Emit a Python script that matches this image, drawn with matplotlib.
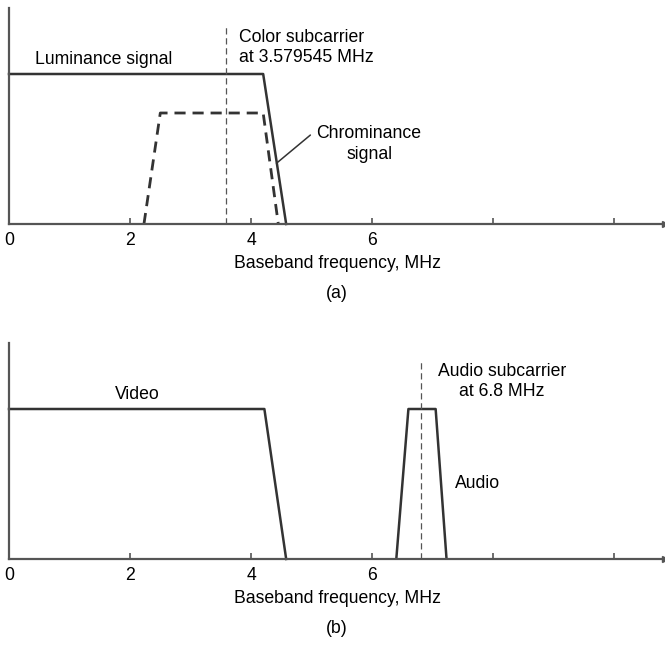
import matplotlib
matplotlib.use('Agg')
import matplotlib.pyplot as plt

plt.rcParams['font.family'] = ['Liberation Sans', 'DejaVu Sans']

# panel (a)
lum_x = [0, 4.2, 4.58]
lum_y = [1.0, 1.0, 0.0]
chroma_x = [2.23, 2.5, 4.2, 4.45]
chroma_y = [0.0, 0.74, 0.74, 0.0]
color_sub = 3.579545

# panel (b)
video_x = [0, 4.22, 4.58]
video_y = [1.0, 1.0, 0.0]
audio_x = [6.4, 6.6, 7.05, 7.23]
audio_y = [0.0, 1.0, 1.0, 0.0]
audio_sub = 6.8

tick_pos = [0, 2, 4, 6, 8, 10]
tick_lab = ['0', '2', '4', '6', '', '']

LINE = '#333333'
AXC = '#555555'
FS = 12.7


def setup(ax, tag):
    ax.set_xlim(0, 10.84)
    ax.set_ylim(0, 1.44)
    for s in ['top', 'right']:
        ax.spines[s].set_visible(False)
    for s in ['left', 'bottom']:
        ax.spines[s].set_color(AXC)
        ax.spines[s].set_linewidth(1.6)
    ax.set_yticks([])
    ax.set_xticks(tick_pos)
    ax.set_xticklabels(tick_lab, fontsize=FS)
    ax.tick_params(axis='x', direction='in', length=4.5, width=1.2,
                   color=AXC, pad=6)
    ax.set_xlabel('Baseband frequency, MHz', fontsize=FS, labelpad=4)
    ax.plot(1, 0, '>', color=AXC, markersize=4,
            transform=ax.get_yaxis_transform(), clip_on=False)
    ax.text(0.5, -0.32, tag, transform=ax.transAxes, ha='center',
            va='center', fontsize=FS)
    ax.patch.set_alpha(0)


fig = plt.figure(figsize=(6.65, 6.45), dpi=100)
ax1 = fig.add_axes([9 / 665, 1 - 224 / 645, 656 / 665, 216 / 645])
ax2 = fig.add_axes([9 / 665, 1 - 559 / 645, 656 / 665, 216 / 645])

setup(ax1, '(a)')
ax1.plot(lum_x, lum_y, color=LINE, lw=1.8, clip_on=False)
ax1.plot(chroma_x, chroma_y, color=LINE, lw=2.0, dashes=(4, 2.5))
ax1.plot([color_sub, color_sub], [0, 1.33], color='#555555', lw=0.9,
         dashes=(5, 3))
ax1.text(1.57, 1.10, 'Luminance signal', ha='center', va='center',
         fontsize=FS)
ax1.text(3.80, 1.177, 'Color subcarrier\nat 3.579545 MHz', ha='left',
         va='center', fontsize=FS, linespacing=1.25)
ax1.text(5.95, 0.533, 'Chrominance\nsignal', ha='center', va='center',
         fontsize=FS, linespacing=1.25)
# leader line from label to the luminance roll-off
ax1.annotate('', xy=(4.42, 0.405), xytext=(4.98, 0.593),
             arrowprops=dict(arrowstyle='-', color=LINE, lw=1.1,
                             shrinkA=0, shrinkB=0))

setup(ax2, '(b)')
ax2.plot(video_x, video_y, color=LINE, lw=1.8, clip_on=False)
ax2.plot(audio_x, audio_y, color=LINE, lw=1.8)
ax2.plot([audio_sub, audio_sub], [0, 1.336], color='#555555', lw=0.9,
         dashes=(5, 3))
ax2.text(2.12, 1.094, 'Video', ha='center', va='center', fontsize=FS)
ax2.text(8.15, 1.181, 'Audio subcarrier\nat 6.8 MHz', ha='center',
         va='center', fontsize=FS, linespacing=1.25)
ax2.text(7.75, 0.503, 'Audio', ha='center', va='center', fontsize=FS)

fig.savefig('out.png', dpi=100)
